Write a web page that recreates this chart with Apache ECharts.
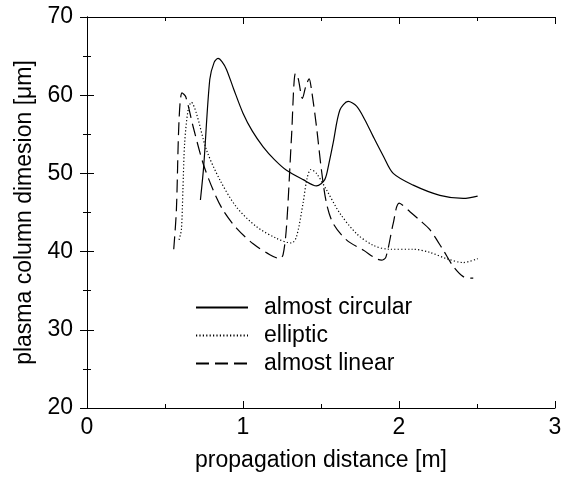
<!DOCTYPE html>
<html>
<head>
<meta charset="utf-8">
<script src="https://cdn.jsdelivr.net/npm/echarts@6/dist/echarts.min.js"></script>
<style>
  html, body { margin: 0; padding: 0; background: #fff; }
  #chart { width: 566px; height: 481px; }
</style>
</head>
<body>
<div id="chart"></div>
<script>
// almost circular (solid)
var circX = [0.727, 0.748, 0.787, 0.815, 0.840, 0.865, 0.894, 0.94, 1.0, 1.06, 1.129, 1.2, 1.279, 1.386, 1.471, 1.524, 1.55, 1.578, 1.621, 1.674, 1.728, 1.78, 1.835, 1.9, 1.963, 2.091, 2.262, 2.412, 2.504];
var circY = [46.6, 50.9, 62.0, 64.2, 64.7, 64.3, 63.3, 60.8, 57.7, 55.4, 53.4, 51.8, 50.4, 49.2, 48.4, 49.2, 51.2, 53.9, 58.1, 59.2, 58.6, 56.9, 54.7, 52.2, 50.0, 48.5, 47.2, 46.8, 47.1];

// elliptic (dotted)
var ellX = [0.590, 0.605, 0.615, 0.626, 0.648, 0.669, 0.701, 0.766, 0.851, 0.958, 1.086, 1.214, 1.311, 1.343, 1.385, 1.41, 1.435, 1.471, 1.535, 1.621, 1.728, 1.835, 1.941, 2.091, 2.198, 2.305, 2.412, 2.504];
var ellY = [41.5, 42.8, 48.0, 53.9, 58.1, 59.1, 57.7, 53.0, 49.2, 45.7, 43.2, 41.7, 41.1, 41.9, 46.2, 49.3, 50.5, 50.0, 47.9, 44.9, 42.3, 40.8, 40.3, 40.3, 39.9, 39.1, 38.6, 39.1];

// almost linear (dashed)
var linX = [0.556, 0.573, 0.590, 0.609, 0.633, 0.680, 0.744, 0.808, 0.872, 0.958, 1.065, 1.172, 1.236, 1.257, 1.279, 1.311, 1.336, 1.353, 1.381, 1.402, 1.424, 1.439, 1.471, 1.503, 1.535, 1.578, 1.663, 1.770, 1.888, 1.916, 1.963, 2.001, 2.070, 2.134, 2.198, 2.283, 2.348, 2.412, 2.476];
var linY = [40.3, 45.3, 56.8, 60.3, 59.8, 56.0, 51.3, 47.9, 45.3, 43.0, 41.0, 39.6, 39.1, 39.6, 43.2, 54.7, 62.8, 62.2, 59.6, 61.1, 62.1, 60.7, 56.0, 50.4, 46.2, 43.6, 41.5, 40.2, 38.9, 39.3, 43.6, 46.2, 45.1, 44.0, 42.8, 40.2, 38.1, 36.8, 36.6];

var xTicks = [0, 1, 2, 3];
var yTicks = [20, 30, 40, 50, 60, 70];

function pairs(xs, ys) {
    var out = [];
    for (var i = 0; i < xs.length; i++) {
        out.push([xs[i], ys[i]]);
    }
    return out;
}

var myChart = echarts.init(document.getElementById('chart'));
var font = 'Liberation Sans, Arial, sans-serif';
var tickStyle = { color: '#000', width: 1 };

var option = {
    backgroundColor: '#fff',
    animation: false,
    textStyle: { fontFamily: font, color: '#000' },
    grid: { left: 87, right: 11, top: 17, bottom: 73, containLabel: false },
    legend: {
        orient: 'vertical',
        left: 190,
        top: 291,
        itemWidth: 52,
        itemHeight: 14,
        itemGap: 5,
        itemStyle: { opacity: 0 },
        textStyle: { fontFamily: font, fontSize: 23, color: '#000', padding: [0, 0, 0, 11] },
        data: ['almost circular', 'elliptic', 'almost linear']
    },
    xAxis: [{
        type: 'value',
        min: 0, max: 3, interval: 1,
        name: 'propagation distance [m]',
        nameLocation: 'middle',
        nameGap: 41,
        nameTextStyle: { fontSize: 23, color: '#000', fontFamily: font },
        axisLine: { lineStyle: { color: '#000' } },
        axisTick: { inside: true, length: 7, lineStyle: tickStyle },
        minorTick: { show: true, splitNumber: 2, length: 4, lineStyle: tickStyle },
        axisLabel: { fontSize: 23, color: '#000', margin: 8, fontFamily: font,
            formatter: function (v) { return xTicks.indexOf(v) >= 0 ? String(v) : ''; } },
        splitLine: { show: false }
    }, {
        type: 'value', position: 'top',
        min: 0, max: 3, interval: 1,
        axisLine: { lineStyle: { color: '#000' } },
        axisTick: { inside: true, length: 7, lineStyle: tickStyle },
        minorTick: { show: true, splitNumber: 2, length: 4, lineStyle: tickStyle },
        axisLabel: { show: false },
        splitLine: { show: false }
    }],
    yAxis: [{
        type: 'value',
        min: 20, max: 70, interval: 10,
        name: 'plasma column dimesion [\u03bcm]',
        nameLocation: 'middle',
        nameGap: 48,
        nameTextStyle: { fontSize: 23, color: '#000', fontFamily: font },
        axisLine: { show: true, lineStyle: { color: '#000' } },
        axisTick: { show: true, inside: true, length: 7, lineStyle: tickStyle },
        minorTick: { show: true, splitNumber: 2, length: 4, lineStyle: tickStyle },
        axisLabel: { fontSize: 23, color: '#000', margin: 14, fontFamily: font,
            formatter: function (v) { return yTicks.indexOf(v) >= 0 ? String(v) : ''; } },
        splitLine: { show: false }
    }, {
        type: 'value', position: 'right',
        min: 20, max: 70, interval: 10,
        axisLine: { show: true, lineStyle: { color: '#000' } },
        axisTick: { show: true, inside: true, length: 7, lineStyle: tickStyle },
        minorTick: { show: true, splitNumber: 2, length: 4, lineStyle: tickStyle },
        axisLabel: { show: false },
        splitLine: { show: false }
    }],
    series: [{
        name: 'almost circular',
        type: 'line',
        smooth: 0.3,
        symbol: 'none',
        data: pairs(circX, circY),
        itemStyle: { color: '#000' },
        lineStyle: { color: '#000', width: 1.2, type: 'solid' }
    }, {
        name: 'elliptic',
        type: 'line',
        smooth: 0.3,
        symbol: 'none',
        data: pairs(ellX, ellY),
        itemStyle: { color: '#000' },
        lineStyle: { color: '#000', width: 1.2, type: [1.2, 2.2] }
    }, {
        name: 'almost linear',
        type: 'line',
        smooth: 0.3,
        symbol: 'none',
        data: pairs(linX, linY),
        itemStyle: { color: '#000' },
        lineStyle: { color: '#000', width: 1.2, type: [13, 6] }
    }]
};

myChart.setOption(option);
</script>
</body>
</html>
